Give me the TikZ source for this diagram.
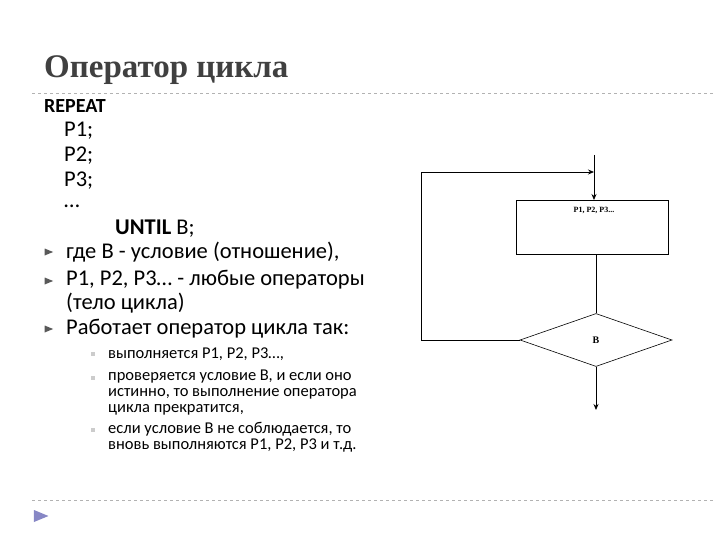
\documentclass[tikz,border=0pt]{standalone}
\usepackage{fontspec}
\setmainfont{Carlito}
\newfontfamily\titlefont{Liberation Serif}
\usetikzlibrary{shapes.geometric,arrows.meta}
\begin{document}
\begin{tikzpicture}[x=1pt,y=-1pt,
  txt/.style={anchor=west,inner sep=0pt,font=\fontsize{22.5}{24}\selectfont},
  sub/.style={anchor=west,inner sep=0pt,font=\fontsize{16.5}{16}\selectfont,align=left},
  ln/.style={draw,line width=0.8pt},
  arr/.style={ln,-{Stealth[length=6pt,width=5pt]}},
  rule/.style={draw=gray!60,dashed,line width=0.6pt},
  bul/.style={fill=gray!40,minimum size=3.5pt,inner sep=0pt},
  tri/.style={fill=gray!70!black,isosceles triangle,minimum size=7pt,inner sep=0pt}]
\useasboundingbox (0,0) rectangle (720,540);
\node[anchor=west,inner sep=0pt,text=black!75,font=\titlefont\bfseries\fontsize{33}{35}\selectfont] (title) at (44,70) {Оператор цикла};
\draw[rule] (32,93) -- (715,93);
\draw[rule] (32,500) -- (715,500);
\node[tri,fill=blue!35!gray!70,minimum size=12pt] (ptr) at (38,516) {};
\node[txt,font=\bfseries\fontsize{20}{20}\selectfont] (rep) at (44,106) {REPEAT};
\node[txt] (p1) at (64,131) {P1;};
\node[txt] (p2) at (64,156) {P2;};
\node[txt] (p3) at (64,181) {P3;};
\node[txt] (dots) at (64,206) {\dots};
\node[txt] (until) at (115,229) {\textbf{UNTIL} B;};
\node[tri] (b1) at (47,252) {};
\node[txt] (t1) at (66,252) {где B - условие (отношение),};
\node[tri] (b2) at (47,281) {};
\node[txt,align=left,anchor=north west] (t2) at (66,270) {P1, P2, P3… - любые операторы\\(тело цикла)};
\node[tri] (b3) at (47,329) {};
\node[txt] (t3) at (66,329) {Работает оператор цикла так:};
\node[bul] (s1) at (93,354) {};
\node[sub] (u1) at (108,354) {выполняется P1, P2, P3…,};
\node[bul] (s2) at (93,378) {};
\node[sub,anchor=north west] (u2) at (108,370) {проверяется условие B, и если оно\\истинно, то выполнение оператора\\цикла прекратится,};
\node[bul] (s3) at (93,430) {};
\node[sub,anchor=north west] (u3) at (108,422) {если условие B не соблюдается, то\\вновь выполняются P1, P2, P3 и т.д.};
% flowchart
\node[draw,line width=0.6pt,minimum width=152pt,minimum height=54pt,anchor=north west,inner sep=0pt] (box) at (516,200) {};
\node[inner sep=0pt,font=\titlefont\bfseries\fontsize{8}{9}\selectfont] (boxt) at (594,210) {P1, P2, P3...};
\node[draw,diamond,aspect=2.87,line width=0.6pt,minimum width=152pt,minimum height=53pt,inner sep=0pt,font=\titlefont\bfseries\fontsize{10}{11}\selectfont] (dia) at (596,340) {B};
\coordinate (top) at (594,155);
\coordinate (join) at (594,172);
\coordinate (cl) at (421,340);
\coordinate (ct) at (421,172);
\coordinate (out) at (596,410);
\draw[arr] (top) -- (box.north -| top);
\draw[ln] (box.south -| dia.north) -- (dia.north);
\draw[ln] (dia.west) -- (cl) -- (ct);
\draw[arr] (ct) -- (join);
\draw[arr] (dia.south) -- (out);
\end{tikzpicture}
\end{document}
